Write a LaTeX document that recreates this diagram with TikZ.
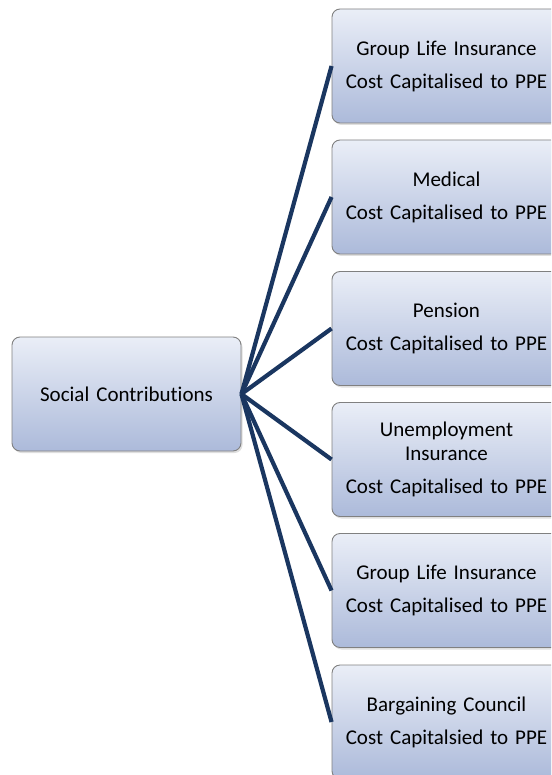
\documentclass[tikz,border=0pt]{standalone}
\usepackage{fontspec}
\setmainfont{Carlito}[Ligatures={NoCommon}]
\usepackage{tikz}
\usetikzlibrary{shadows}
\definecolor{boxtop}{RGB}{234,238,247}
\definecolor{boxbottom}{RGB}{172,186,218}
\definecolor{boxline}{RGB}{128,128,128}
\definecolor{linkblue}{RGB}{26,54,96}

\begin{document}
\begin{tikzpicture}[x=1pt, y=-1pt,
    costbox/.style={draw=boxline, line width=0.9pt, rounded corners=8pt,
        top color=boxtop, bottom color=boxbottom,
        minimum width=229pt, minimum height=114pt,
        text width=205pt, align=center, inner sep=0pt,
        font=\fontsize{21}{24}\selectfont,
        drop shadow={shadow xshift=1.5pt, shadow yshift=-2pt, opacity=0.25}},
    link/.style={draw=linkblue, line width=4.2pt}]
            \clip (0,0) rectangle (551,775);
            \node [costbox] (social) at (126.5,394) {Social Contributions};
            \node [costbox] (grouplife) at (446.5,66) {Group Life Insurance\\[9pt]Cost Capitalised to PPE};
            \node [costbox] (medical) at (446.5,197) {Medical\\[9pt]Cost Capitalised to PPE};
            \node [costbox] (pension) at (446.5,328.5) {Pension\\[9pt]Cost Capitalised to PPE};
            \node [costbox] (unemployment) at (446.5,459.5) {Unemployment Insurance\\[9pt]Cost Capitalised to PPE};
            \node [costbox] (grouplifetwo) at (446.5,590.5) {Group Life Insurance\\[9pt]Cost Capitalised to PPE};
            \node [costbox] (bargaining) at (446.5,722) {Bargaining Council\\[9pt]Cost Capitalsied to PPE};
            \draw [link] (social.east) -- (grouplife.west);
            \draw [link] (social.east) -- (medical.west);
            \draw [link] (social.east) -- (pension.west);
            \draw [link] (social.east) -- (unemployment.west);
            \draw [link] (social.east) -- (grouplifetwo.west);
            \draw [link] (social.east) -- (bargaining.west);
        \end{tikzpicture}
\end{document}
